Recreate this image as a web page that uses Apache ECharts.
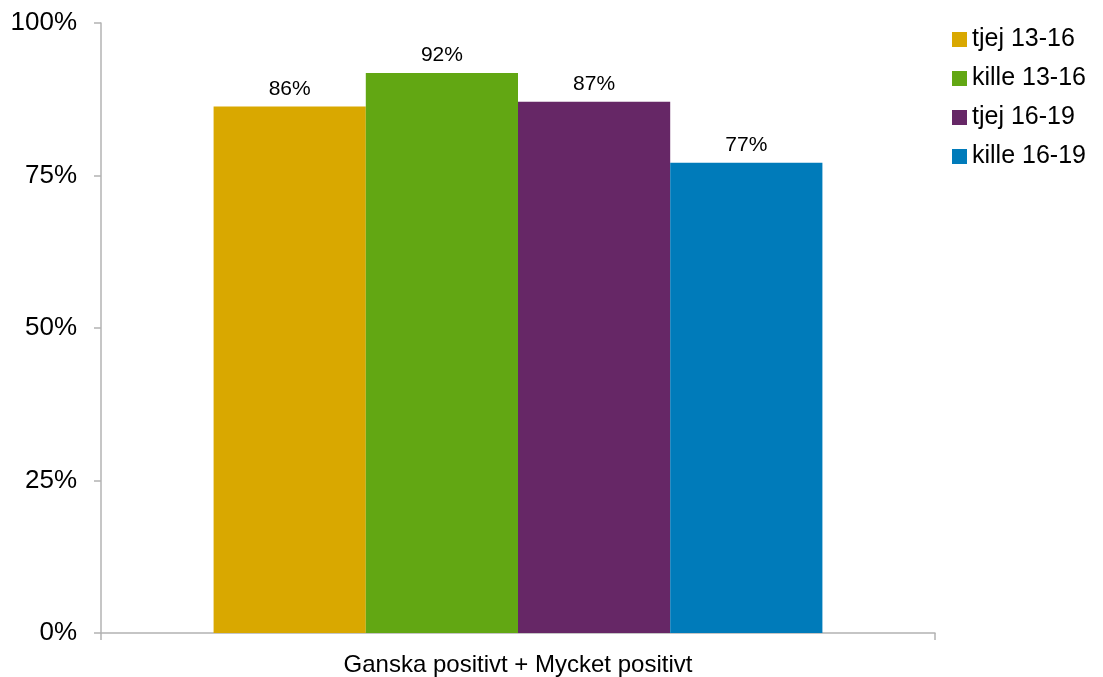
<!DOCTYPE html>
<html><head><meta charset="utf-8">
<script src="https://cdn.jsdelivr.net/npm/echarts@6/dist/echarts.min.js"></script>
<style>html,body{margin:0;padding:0;background:#fff}#c{width:1103px;height:677px}</style>
</head><body><div id="c"></div>
<script>
const categories = ['Ganska positivt + Mycket positivt'];
const seriesNames = ['tjej 13-16', 'kille 13-16', 'tjej 16-19', 'kille 16-19'];
const seriesValues = [[86.3], [91.8], [87.1], [77.1]];
const seriesColors = ['#D9A800', '#62A713', '#662766', '#007BBA'];
const yTicks = [0, 25, 50, 75, 100];

const chart = echarts.init(document.getElementById('c'));
const font = 'Liberation Sans, Arial, sans-serif';
chart.setOption({
  animation: false,
  grid: { left: 101, right: 168, top: 23, bottom: 43 },
  legend: {
    orient: 'vertical', left: 952, top: 27, padding: 0,
    icon: 'rect', itemWidth: 15, itemHeight: 15, itemGap: 14,
    textStyle: { fontFamily: font, fontSize: 25, color: '#000' },
    data: seriesNames
  },
  xAxis: {
    type: 'category', data: categories,
    axisLine: { lineStyle: { color: '#B3B3B3', width: 1.5 } },
    axisTick: { show: true, length: 7, lineStyle: { color: '#B3B3B3', width: 1.5 } },
    axisLabel: { fontFamily: font, fontSize: 24, color: '#000', margin: 20 }
  },
  yAxis: {
    type: 'value', min: 0, max: 100, interval: 25,
    axisLine: { show: true, lineStyle: { color: '#B3B3B3', width: 1.5 } },
    axisTick: { show: true, length: 7, lineStyle: { color: '#B3B3B3', width: 1.5 } },
    splitLine: { show: false },
    axisLabel: { fontFamily: font, fontSize: 26, color: '#000', margin: 24,
      formatter: v => yTicks.includes(v) ? v + '%' : '' }
  },
  series: seriesNames.map((n, i) => ({
    name: n, type: 'bar', data: seriesValues[i],
    barGap: '0%', barCategoryGap: '27%',
    itemStyle: { color: seriesColors[i] },
    label: { show: true, position: 'top', distance: 7, fontFamily: font, fontSize: 21, color: '#000',
      formatter: p => Math.round(p.value) + '%' }
  }))
});
</script></body></html>
